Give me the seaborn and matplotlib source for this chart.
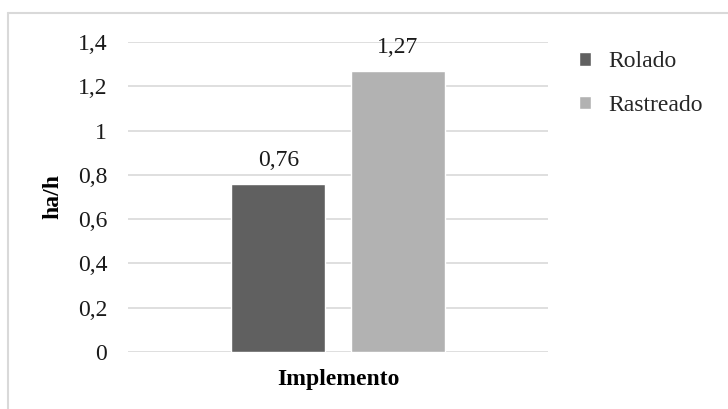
import matplotlib
matplotlib.use("Agg")
import matplotlib.pyplot as plt
import seaborn as sns
import pandas as pd
from matplotlib.lines import Line2D
from matplotlib.ticker import FuncFormatter

categories = ["Implemento"]
series = ["Rolado", "Rastreado"]
values = [0.76, 1.27]
labels = ["0,76", "1,27"]
colors = ["#606060", "#b2b2b2"]

sns.set_theme(style="white")
plt.rcParams['font.family'] = ['Liberation Serif', 'DejaVu Serif']

df = pd.DataFrame({"cat": categories * len(series), "serie": series, "val": values})

fig = plt.figure(figsize=(7.28, 4.09), dpi=100)
bx, by = 8/728, 1-13/409
fig.lines.append(Line2D([bx, bx], [0, by], transform=fig.transFigure, color="#d9d9d9", linewidth=1.5))
fig.lines.append(Line2D([bx, 1], [by, by], transform=fig.transFigure, color="#d9d9d9", linewidth=1.5))

ax = fig.add_axes([128/728, 1-352/409, 420/728, 310/409])
sns.barplot(data=df, x="cat", y="val", hue="serie", palette=colors, width=0.567,
            gap=0.21, ax=ax, saturation=1, legend=True)
ax.set_xlim(-0.5, 0.5)
ax.set_ylim(0, 1.4)
ax.set_yticks([0, 0.2, 0.4, 0.6, 0.8, 1.0, 1.2, 1.4])
ax.yaxis.set_major_formatter(FuncFormatter(lambda v, p: ("%g" % round(v, 1)).replace(".", ",")))
ax.grid(axis="y", color="#d9d9d9", linewidth=1.2)
ax.set_axisbelow(True)
for s in ax.spines.values():
    s.set_visible(False)
ax.tick_params(axis="y", length=0, pad=15, labelsize=17, colors="#1a1a1a")
ax.set_xticks([])
ax.set_xlabel("Implemento", fontsize=17, fontweight="bold", labelpad=12, color="black")
ax.set_ylabel("ha/h", fontsize=17, fontweight="bold", labelpad=10, color="black")

for cont, lab in zip(ax.containers, labels):
    ax.bar_label(cont, labels=[lab], padding=9, fontsize=17, color="#1a1a1a")

handles, hl = ax.get_legend_handles_labels()
ax.legend(handles, hl, loc="upper left", bbox_to_anchor=(558/728, 1-30/409),
          bbox_transform=fig.transFigure, frameon=False, fontsize=17,
          handlelength=0.5, handleheight=0.5, handletextpad=0.75, labelspacing=0.95)

fig.savefig("out.png", dpi=100)
